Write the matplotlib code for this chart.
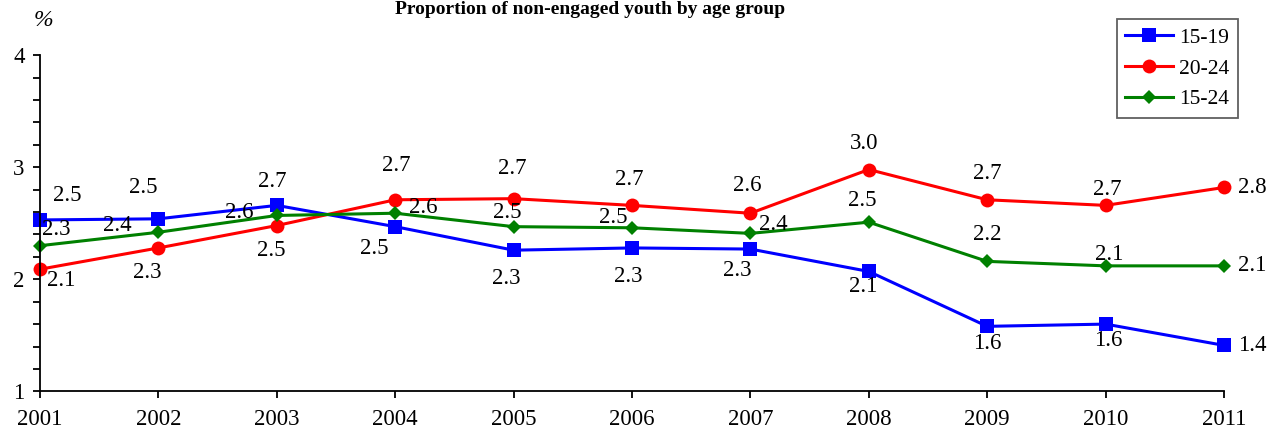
import matplotlib
matplotlib.use("Agg")
import matplotlib.pyplot as plt
from matplotlib.ticker import MultipleLocator

years = [2001, 2002, 2003, 2004, 2005, 2006, 2007, 2008, 2009, 2010, 2011]
age_15_19 = [2.53, 2.54, 2.66, 2.47, 2.26, 2.28, 2.27, 2.07, 1.58, 1.60, 1.41]
age_20_24 = [2.09, 2.28, 2.48, 2.71, 2.72, 2.66, 2.59, 2.98, 2.71, 2.66, 2.82]
age_15_24 = [2.30, 2.42, 2.57, 2.59, 2.47, 2.46, 2.41, 2.51, 2.16, 2.12, 2.12]
series_names = ["15-19", "20-24", "15-24"]
title = "Proportion of non-engaged youth by age group"

# label offsets in pixels (dx right, dy down)
off_15_19 = [(27, -24), (-15, -31), (-5, -24), (-21, 22), (-7, 28), (-4, 29),
             (-13, 21), (-6, 15), (0, 17), (3, 16), (28, 0)]
off_20_24 = [(21, 11), (-11, 25), (-6, 25), (1, -34), (-1, -30), (-3, -26),
             (-3, -28), (-5, -26), (0, -26), (2, -16), (28, 0)]
off_15_24 = [(16, -16), (-41, -7), (-38, -3), (28, -6), (-6, -14), (-19, -10),
             (23, -9), (-7, -22), (0, -27), (4, -11), (28, 0)]

plt.rcParams['font.family'] = ['Liberation Serif', 'DejaVu Serif']

W, H = 1268, 434
fig = plt.figure(figsize=(W / 100, H / 100), dpi=100)
ax = fig.add_axes([40 / W, 1 - 391.3 / H, (1224 - 40) / W, (391.3 - 55.3) / H])

styles = [
    dict(color='#0000ff', marker='s', markersize=10),
    dict(color='#ff0000', marker='o', markersize=10),
    dict(color='#008000', marker='D', markersize=7),
]
data = [age_15_19, age_20_24, age_15_24]
offsets = [off_15_19, off_20_24, off_15_24]
handles = []
for name, vals, st, offs in zip(series_names, data, styles, offsets):
    ln, = ax.plot(years, vals, linewidth=2.2, clip_on=False, label=name,
                  markeredgewidth=0, **st)
    handles.append(ln)
    for x, v, (dx, dy) in zip(years, vals, offs):
        ax.annotate(f"{v:.1f}", (x, v), xytext=(dx, -dy), textcoords='offset pixels',
                    ha='center', va='center', fontsize=16.5, color='black')

ax.set_xlim(2001, 2011)
ax.set_ylim(1, 4)
ax.set_xticks(years)
ax.set_xticklabels([str(y) for y in years])
ax.yaxis.set_major_locator(MultipleLocator(1))
ax.yaxis.set_minor_locator(MultipleLocator(0.2))
for s in ['top', 'right']:
    ax.spines[s].set_visible(False)
for s in ['left', 'bottom']:
    ax.spines[s].set_linewidth(1.3)
ax.tick_params(axis='both', which='both', direction='out', width=1.3, labelsize=16.5)
ax.tick_params(axis='y', which='major', length=5, pad=6)
ax.tick_params(axis='y', which='minor', length=5)
ax.tick_params(axis='x', which='major', length=5, pad=8)

leg = fig.legend(handles=handles, labels=series_names, loc='upper right',
                 bbox_to_anchor=(1238 / W, 1 - 19 / H), fontsize=15.5, frameon=True,
                 fancybox=False, framealpha=1, edgecolor='#606060',
                 handlelength=2.2, handletextpad=0.3, labelspacing=0.5,
                 borderpad=0.4, borderaxespad=0)
leg.get_frame().set_linewidth(1.3)

fig.text(590 / W, 1 - 14 / H, title, ha='center', va='baseline',
         fontsize=14, fontweight='bold')
fig.text(43 / W, 1 - 21 / H, "%", ha='center', va='center', fontsize=17,
         style='italic')

fig.savefig("out.png", dpi=100)
